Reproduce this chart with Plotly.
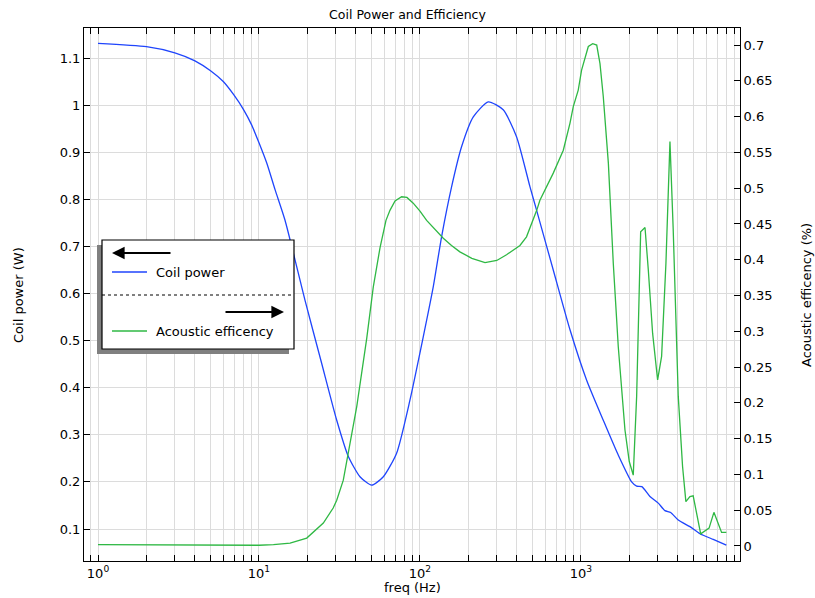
import plotly.graph_objects as go

# Coil power (left axis, W)
coil_freq = [1, 2, 3, 4, 5, 6, 7, 8, 9, 10, 11.2, 12.6, 14.5, 19.3, 24.5, 30.4, 35.9, 42.4, 50.1,
             59.2, 71.6, 86.7, 104.8, 120.9, 136.3, 157.3, 181.5, 214.4, 265.7, 328.9, 398, 482,
             530, 673, 855, 1085, 1376, 1700, 2065, 2218, 2388, 2683, 3022, 3324, 3609, 4022,
             4753, 5483, 6632, 8000]
coil_power = [1.131, 1.124, 1.111, 1.094, 1.073, 1.050, 1.021, 0.991, 0.958, 0.920, 0.876, 0.820,
              0.756, 0.586, 0.452, 0.331, 0.254, 0.211, 0.193, 0.211, 0.261, 0.374, 0.508, 0.614,
              0.721, 0.827, 0.912, 0.975, 1.007, 0.990, 0.933, 0.827, 0.777, 0.650, 0.523, 0.416,
              0.331, 0.258, 0.200, 0.191, 0.190, 0.169, 0.155, 0.139, 0.135, 0.119, 0.105, 0.090,
              0.078, 0.066]

# Acoustic efficency (right axis, %)
eff_freq = [1, 5, 10, 12.3, 15.6, 19.8, 25.1, 28.9, 30.4, 33.4, 35.1, 40.5, 46.7, 51.3, 56.5,
            61.5, 65.1, 70, 76.9, 83, 90.8, 100, 110, 124, 139.6, 157, 177, 210, 253.6, 300, 345,
            418, 459, 531, 556, 673, 741, 777, 855, 896, 962, 1009, 1111, 1183, 1253, 1313, 1376,
            1430, 1480, 1588, 1706, 1877, 1996, 2113, 2218, 2349, 2500, 2620, 2788, 2994, 3170,
            3372, 3572, 3742, 4022, 4278, 4485, 4753, 4979, 5543, 6250, 6698, 7476, 8000]
eff_values = [0.002, 0.0015, 0.001, 0.002, 0.004, 0.011, 0.032, 0.053, 0.064, 0.092, 0.120,
              0.195, 0.290, 0.362, 0.417, 0.455, 0.469, 0.482, 0.488, 0.487, 0.479, 0.468,
              0.455, 0.442, 0.430, 0.420, 0.411, 0.402, 0.396, 0.399, 0.407, 0.420, 0.432,
              0.469, 0.483, 0.521, 0.544, 0.553, 0.591, 0.614, 0.637, 0.665, 0.698, 0.702,
              0.700, 0.674, 0.628, 0.581, 0.535, 0.395, 0.278, 0.162, 0.118, 0.099, 0.209,
              0.439, 0.445, 0.386, 0.297, 0.232, 0.265, 0.395, 0.565, 0.442, 0.209, 0.111,
              0.062, 0.069, 0.070, 0.017, 0.025, 0.047, 0.019, 0.019]

x_major = [1, 10, 100, 1000]
x_major_text = ["10<sup>0</sup>", "10<sup>1</sup>", "10<sup>2</sup>", "10<sup>3</sup>"]
x_minor = [m * d for d in (0.1, 1, 10, 100, 1000) for m in range(2, 10)]

BLUE = "#1f45fc"
GREEN = "#2fb844"
GRID = "#dcdcdc"
FONT = "DejaVu Sans"

W, H = 815, 598
L, R, T, B = 84, 75, 28, 37


def px(x):
    return (x - L) / (W - L - R)


def py(y):
    return (H - B - y) / (H - T - B)


def label(text, x, y, angle=0, xanchor="center"):
    fig.add_annotation(text=text, x=px(x), y=py(y), xref="paper", yref="paper",
                       xanchor=xanchor, yanchor="middle", textangle=angle,
                       showarrow=False, font=dict(size=13))


fig = go.Figure()
fig.add_trace(go.Scatter(x=coil_freq, y=coil_power, mode="lines", name="Coil power",
                         line=dict(color=BLUE, width=1.3, shape="spline", smoothing=0.6)))
fig.add_trace(go.Scatter(x=eff_freq, y=eff_values, mode="lines", name="Acoustic efficency",
                         yaxis="y2", line=dict(color=GREEN, width=1.3)))

axis_common = dict(showline=True, linecolor="black", linewidth=1, ticks="inside", ticklen=6,
                   tickcolor="black", tickfont=dict(size=13, color="black"), zeroline=False)

fig.update_layout(
    width=W, height=H,
    margin=dict(l=L, r=R, t=T, b=B),
    paper_bgcolor="white", plot_bgcolor="white",
    font=dict(family=FONT, color="black"),
    showlegend=False,
    title=dict(text="Coil Power and Efficiency", x=px(412), xanchor="center", y=1 - 15 / H,
               yanchor="middle", font=dict(size=12.5)),
    xaxis=dict(type="log", range=[-0.087, 3.988], tickmode="array", tickvals=x_major,
               ticktext=x_major_text, showgrid=True, gridcolor=GRID, mirror="allticks",
               minor=dict(tickmode="array", tickvals=x_minor, ticks="inside", ticklen=6,
                          tickcolor="black", showgrid=True, gridcolor=GRID),
               **axis_common),
    yaxis=dict(range=[0.0321, 1.1637], dtick=0.1, tick0=0, showgrid=True, gridcolor=GRID,
               **axis_common),
    yaxis2=dict(range=[-0.021, 0.7238], dtick=0.05, tick0=0, overlaying="y", side="right",
                showgrid=False, **axis_common),
)

# axis titles
label("freq (Hz)", 412, 587)
label("Coil power (W)", 18, 295, angle=-90)
label("Acoustic efficency (%)", 806, 295, angle=-90)

# custom legend box
fig.add_shape(type="rect", xref="paper", yref="paper", x0=px(97), x1=px(289), y0=py(354),
              y1=py(245), fillcolor="#808080", line=dict(width=0), layer="above")
fig.add_shape(type="rect", xref="paper", yref="paper", x0=px(102), x1=px(294), y0=py(349),
              y1=py(240), fillcolor="white", line=dict(color="black", width=1.2), layer="above")
fig.add_shape(type="line", xref="paper", yref="paper", x0=px(102), x1=px(294), y0=py(295),
              y1=py(295), line=dict(color="black", width=1, dash="dot"), layer="above")
fig.add_shape(type="line", xref="paper", yref="paper", x0=px(112), x1=px(147), y0=py(272),
              y1=py(272), line=dict(color=BLUE, width=1.3), layer="above")
fig.add_shape(type="line", xref="paper", yref="paper", x0=px(112), x1=px(147), y0=py(331),
              y1=py(331), line=dict(color=GREEN, width=1.3), layer="above")
label("Coil power", 154, 272, xanchor="left")
label("Acoustic efficency", 154, 331, xanchor="left")
# arrows showing which axis each curve uses
fig.add_annotation(text="", x=px(112), y=py(253), xref="paper", yref="paper", ax=60, ay=0,
                   showarrow=True, arrowhead=2, arrowsize=1.4, arrowwidth=1.8,
                   arrowcolor="black")
fig.add_annotation(text="", x=px(284), y=py(312), xref="paper", yref="paper", ax=-60, ay=0,
                   showarrow=True, arrowhead=2, arrowsize=1.4, arrowwidth=1.8,
                   arrowcolor="black")

# the page's default body margin would shift the whole figure by 8 px
fig.write_html("out.html", config={"displayModeBar": False},
               post_script="document.body.style.margin='0';")
